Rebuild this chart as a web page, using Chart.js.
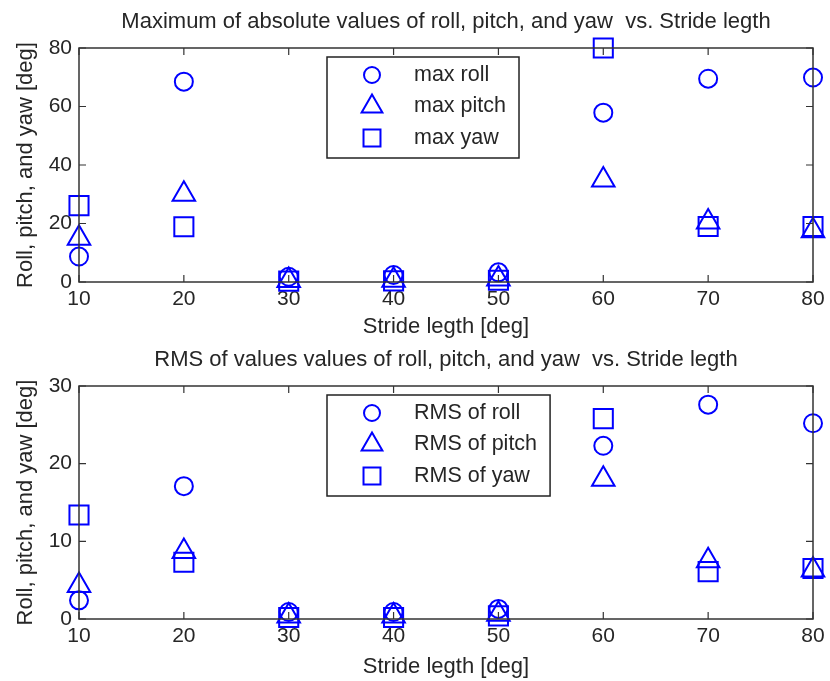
<!DOCTYPE html>
<html>
<head>
<meta charset="utf-8">
<script src="https://cdn.jsdelivr.net/npm/chart.js@4.4.1/dist/chart.umd.min.js"></script>
<style>
  body { margin: 0; background: #fff; }
  .plot { position: relative; width: 830px; }
</style>
</head>
<body>
<div class="plot" style="height:340px"><canvas id="maxChart"></canvas></div>
<div class="plot" style="height:341px"><canvas id="rmsChart"></canvas></div>
<script>
// Stride length on the x axis
const strideLength = [10, 20, 30, 40, 50, 60, 70, 80];

// Maximum of absolute values [deg]
const maxRoll  = [8.7, 68.5, 1.8, 2.4, 3.3, 57.9, 69.5, 69.9];
const maxPitch = [15.0, 30.0, 0.5, 0.6, 1.0, 34.9, 20.5, 17.5];
const maxYaw   = [26.1, 18.9, 0.3, 0.4, 0.6, 80.0, 19.0, 19.0];

// RMS values [deg]
const rmsRoll  = [2.4, 17.1, 0.9, 0.9, 1.3, 22.3, 27.6, 25.2];
const rmsPitch = [4.3, 8.7, 0.4, 0.4, 0.6, 18.0, 7.5, 6.3];
const rmsYaw   = [13.4, 7.3, 0.2, 0.2, 0.4, 25.8, 6.1, 6.5];

const xTicks = [10, 20, 30, 40, 50, 60, 70, 80];

const BLUE = '#0000ff';
const INK = '#262626';
const FONT = "'Liberation Sans', Arial, sans-serif";
const TEXT_SIZE = 22;

Chart.defaults.font.family = FONT;
Chart.defaults.font.size = 21;
Chart.defaults.color = INK;

function toPoints(values) {
  return values.map((v, i) => ({ x: strideLength[i], y: v }));
}

function markerDataset(label, values, style, radius) {
  return {
    label: label,
    data: toPoints(values),
    pointStyle: style,
    pointRadius: radius,
    pointHoverRadius: radius,
    pointBorderWidth: 2,
    pointBackgroundColor: 'rgba(0,0,0,0)',
    pointBorderColor: BLUE,
    showLine: false,
    clip: false
  };
}

// Box around the axes with inward ticks on all four sides
const framePlugin = {
  id: 'frame',
  afterDatasetsDraw(chart) {
    const { ctx, chartArea: a, scales } = chart;
    const len = 7;
    ctx.save();
    ctx.strokeStyle = '#333';
    ctx.lineWidth = 1.5;
    ctx.strokeRect(a.left, a.top, a.right - a.left, a.bottom - a.top);
    ctx.lineWidth = 1.2;
    ctx.beginPath();
    scales.x.ticks.forEach(t => {
      const px = scales.x.getPixelForValue(t.value);
      ctx.moveTo(px, a.bottom); ctx.lineTo(px, a.bottom - len);
      ctx.moveTo(px, a.top); ctx.lineTo(px, a.top + len);
    });
    scales.y.ticks.forEach(t => {
      const py = scales.y.getPixelForValue(t.value);
      ctx.moveTo(a.left, py); ctx.lineTo(a.left + len, py);
      ctx.moveTo(a.right, py); ctx.lineTo(a.right - len, py);
    });
    ctx.stroke();
    ctx.restore();
  }
};

// Legend box drawn inside the axes
const boxLegendPlugin = {
  id: 'boxLegend',
  afterDraw(chart, args, opts) {
    const { ctx, chartArea: a } = chart;
    const sets = chart.data.datasets;
    const left = a.left + opts.offsetX;
    const top = a.top + opts.offsetY;
    const rowGap = 31.5;
    const markerX = left + 45;
    const textX = left + 87;
    ctx.save();
    ctx.font = '21.5px ' + FONT;
    const textW = Math.max(...sets.map(d => ctx.measureText(d.label).width));
    const w = textX - left + textW + 13;
    const h = 101;
    ctx.fillStyle = '#fff';
    ctx.fillRect(left, top, w, h);
    ctx.strokeStyle = '#222';
    ctx.lineWidth = 1.5;
    ctx.strokeRect(left, top, w, h);
    sets.forEach((d, i) => {
      const y = top + 18 + i * rowGap;
      ctx.strokeStyle = BLUE;
      ctx.fillStyle = 'rgba(0,0,0,0)';
      ctx.lineWidth = 2;
      Chart.helpers.drawPoint(ctx, {
        pointStyle: d.pointStyle,
        radius: opts.markerSize[d.pointStyle],
        rotation: 0,
        borderWidth: 2
      }, markerX, y);
      ctx.fillStyle = INK;
      ctx.textAlign = 'left';
      ctx.textBaseline = 'middle';
      ctx.fillText(d.label, textX, y);
    });
    ctx.restore();
  }
};

function makeChart(id, title, datasets, yMax, yStep, titlePad, xHeight, xTitleBottom) {
  return new Chart(document.getElementById(id), {
    type: 'scatter',
    data: { datasets: datasets },
    plugins: [framePlugin, boxLegendPlugin],
    options: {
      responsive: true,
      maintainAspectRatio: false,
      animation: false,
      events: [],
      layout: { padding: { left: 0, right: 17, top: 0, bottom: 0 } },
      scales: {
        x: {
          type: 'linear',
          min: 10,
          max: 80,
          afterBuildTicks: s => { s.ticks = xTicks.map(v => ({ value: v })); },
          afterFit: s => { s.height = xHeight; },
          grid: { display: false, drawTicks: false },
          border: { display: false },
          ticks: { padding: 5, color: INK },
          title: {
            display: true, text: 'Stride legth [deg]', color: INK,
            font: { size: TEXT_SIZE },
            padding: { top: 0, bottom: xTitleBottom }
          }
        },
        y: {
          min: 0,
          max: yMax,
          afterFit: s => { s.width = 79; },
          grid: { display: false, drawTicks: false },
          border: { display: false },
          ticks: { stepSize: yStep, padding: 7, color: INK },
          title: {
            display: true, text: 'Roll, pitch, and yaw [deg]', color: INK,
            font: { size: TEXT_SIZE },
            padding: { top: 13, bottom: 0 }
          }
        }
      },
      plugins: {
        legend: { display: false },
        tooltip: { enabled: false },
        title: {
          display: true,
          fullSize: false,
          text: title,
          color: INK,
          font: { size: TEXT_SIZE, weight: 'normal' },
          padding: titlePad
        },
        boxLegend: {
          offsetX: 248,
          offsetY: 9,
          markerSize: { circle: 8, triangle: 12, rect: 12 }
        }
      }
    }
  });
}

makeChart('maxChart',
  'Maximum of absolute values of roll, pitch, and yaw  vs. Stride legth',
  [
    markerDataset('max roll', maxRoll, 'circle', 9),
    markerDataset('max pitch', maxPitch, 'triangle', 13),
    markerDataset('max yaw', maxYaw, 'rect', 13.5)
  ],
  80, 20, { top: 8.8, bottom: 12.8 }, 58, 0);

makeChart('rmsChart',
  'RMS of values values of roll, pitch, and yaw  vs. Stride legth',
  [
    markerDataset('RMS of roll', rmsRoll, 'circle', 9),
    markerDataset('RMS of pitch', rmsPitch, 'triangle', 13),
    markerDataset('RMS of yaw', rmsYaw, 'rect', 13.5)
  ],
  30, 10, { top: 6.8, bottom: 12.8 }, 62, 1);
</script>
</body>
</html>
